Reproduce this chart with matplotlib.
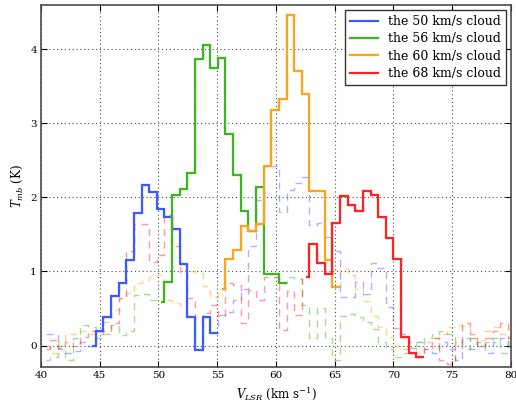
import matplotlib
matplotlib.use("Agg")
import matplotlib.pyplot as plt
import numpy as np

velocity = [40.43, 41.08, 41.73, 42.38, 43.03, 43.68, 44.33, 44.98, 45.63, 46.28,
            46.93, 47.58, 48.23, 48.88, 49.53, 50.18, 50.83, 51.48, 52.13, 52.78,
            53.43, 54.08, 54.73, 55.38, 56.03, 56.68, 57.33, 57.98, 58.63, 59.28,
            59.93, 60.58, 61.23, 61.88, 62.53, 63.18, 63.83, 64.48, 65.13, 65.78,
            66.43, 67.08, 67.73, 68.38, 69.03, 69.68, 70.33, 70.98, 71.63, 72.28,
            72.93, 73.58, 74.23, 74.88, 75.53, 76.18, 76.83, 77.48, 78.13, 78.78,
            79.43, 80.08]

t_50 = [0.16, 0.16, -0.05, -0.10, -0.08, 0.05, 0.00, 0.20, 0.39, 0.67,
        0.85, 1.16, 1.79, 2.17, 2.07, 1.84, 1.74, 1.58, 1.10, 0.39,
        -0.06, 0.39, 0.17, 0.41, 0.45, 0.61, 0.77, 1.34, 1.97, 2.42,
        2.42, 1.80, 2.10, 2.19, 2.28, 1.63, 1.65, 1.47, 1.27, 0.66,
        0.66, 0.86, 0.70, 1.11, 1.05, 0.52, 0.23, 0.15, -0.03, 0.05,
        -0.05, -0.10, 0.05, -0.05, -0.20, 0.10, -0.05, 0.05, -0.10, 0.05,
        0.10, 0.00]

t_56 = [-0.20, -0.15, 0.00, -0.20, 0.10, 0.28, 0.25, 0.10, 0.15, 0.28,
        0.14, 0.20, 0.68, 0.70, 0.62, 0.59, 0.86, 2.03, 2.12, 2.33,
        3.87, 4.06, 3.75, 3.88, 2.85, 2.30, 1.81, 1.55, 2.14, 0.97,
        0.97, 0.84, 0.93, 0.90, 0.55, 0.10, 0.50, 0.10, -0.20, 0.40,
        0.42, 0.38, 0.32, 0.22, 0.05, -0.05, -0.15, -0.10, 0.05, 0.00,
        0.10, 0.15, 0.20, 0.15, 0.05, -0.05, 0.10, 0.00, 0.05, 0.10,
        -0.10, 0.10]

t_60 = [0.00, -0.10, 0.05, 0.15, 0.16, 0.20, 0.15, 0.20, 0.32, 0.48,
        0.64, 0.71, 0.84, 0.88, 0.93, 0.95, 0.61, 0.57, 0.55, 1.00,
        0.98, 0.80, 0.66, 0.76, 1.17, 1.29, 1.61, 1.54, 1.64, 2.42,
        3.18, 3.33, 4.47, 3.71, 3.39, 2.08, 2.08, 1.16, 0.79, 1.03,
        0.95, 0.77, 0.60, 0.40, 0.25, 0.12, 0.00, -0.05, -0.05, -0.10,
        0.05, 0.10, 0.15, 0.25, 0.28, 0.26, 0.10, 0.07, 0.20, 0.25,
        0.15, 0.10]

t_68 = [-0.05, 0.07, -0.03, 0.05, 0.00, 0.12, 0.20, 0.15, 0.19, 0.30,
        0.64, 1.27, 1.64, 1.64, 1.13, 1.22, 1.76, 1.34, 0.98, 0.64,
        0.34, 0.44, 0.55, 0.40, 0.84, 0.82, 0.30, 0.75, 0.61, 0.93,
        0.93, 0.21, 0.73, 0.41, 0.93, 1.37, 1.12, 0.97, 1.65, 2.02,
        1.90, 1.81, 2.08, 2.03, 1.73, 1.45, 1.17, 0.12, -0.10, -0.16,
        -0.05, 0.10, -0.20, -0.25, 0.05, 0.30, 0.15, 0.00, 0.10, 0.20,
        0.30, 0.10]

labels = ["the 50 km/s cloud", "the 56 km/s cloud",
          "the 60 km/s cloud", "the 68 km/s cloud"]
spectra = [t_50, t_56, t_60, t_68]
# channel index ranges of the highlighted (solid) part of each spectrum
solid_ranges = [(6, 22), (15, 31), (23, 38), (34, 49)]
colors = ["#3a5cff", "#3cb521", "#ffa31a", "#ff2222"]

plt.rcParams["font.family"] = ["DejaVu Serif"]
plt.rcParams["mathtext.fontset"] = "dejavuserif"

fig = plt.figure(figsize=(5.16, 4.08), dpi=100)
ax = fig.add_axes([0.0795, 0.1005, 0.9105, 0.8875])

v = np.array(velocity)
# channel edges from the channel centres
mids = (v[:-1] + v[1:]) / 2
edges = np.concatenate([[2 * v[0] - mids[0]], mids, [2 * v[-1] - mids[-1]]])

for spec, col in zip(spectra, colors):
    ax.step(v, np.array(spec), where="mid", color=col, lw=1.0,
            ls=(0, (5, 4)), alpha=0.45, zorder=2)

for spec, col, lab, (a, b) in zip(spectra, colors, labels, solid_ranges):
    s = np.array(spec)
    xe = np.concatenate([[v[a]], edges[a + 1:b + 2]])
    ax.stairs(s[a:b + 1], xe, baseline=None, color=col, lw=1.6,
              label=lab, zorder=3)

ax.set_xlim(40, 80)
ax.set_ylim(-0.29, 4.6)
ax.set_xticks([40, 45, 50, 55, 60, 65, 70, 75, 80])
ax.set_yticks([0, 1, 2, 3, 4])
ax.grid(True, color="0.3", ls=(0, (1, 2.5)), lw=0.8)
ax.tick_params(direction="in", top=True, right=True, labelsize=7.5,
               length=4, width=0.8, pad=3)
for sp in ax.spines.values():
    sp.set_color("0.3")
    sp.set_linewidth(1.2)

ax.set_xlabel(r"$V_{LSR}$ (km s$^{-1}$)", fontsize=8.5, labelpad=4)
ax.set_ylabel(r"$T_{mb}$ (K)", fontsize=8.5, labelpad=4)

leg = ax.legend(loc="upper right", fontsize=9, fancybox=False,
                framealpha=1, edgecolor="0.2", handlelength=2.2,
                borderaxespad=0.4, labelspacing=0.35)
leg.get_frame().set_linewidth(1.0)
for h in leg.legend_handles:
    h.set_linewidth(1.6)

fig.savefig("out.png", dpi=100)
